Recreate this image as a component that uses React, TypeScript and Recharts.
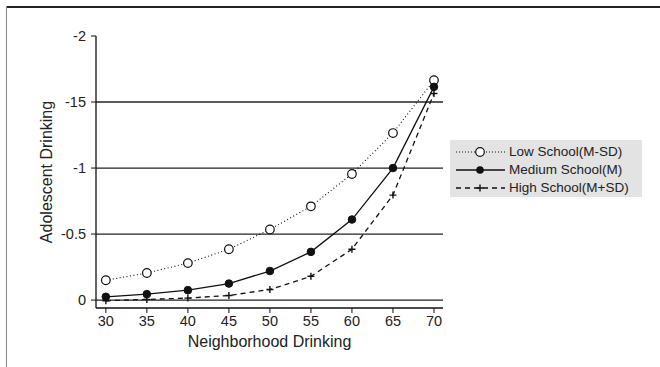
import React from "react";
import {
  LineChart,
  Line,
  XAxis,
  YAxis,
  ReferenceLine,
} from "recharts";

// Neighborhood drinking levels (x)
const neighborhood = [30, 35, 40, 45, 50, 55, 60, 65, 70];

// Predicted adolescent drinking for three school-level groups
const lowSchool = [-0.15, -0.205, -0.28, -0.385, -0.535, -0.71, -0.955, -1.265, -1.665];
const mediumSchool = [-0.025, -0.045, -0.075, -0.125, -0.22, -0.365, -0.61, -1.0, -1.615];
const highSchool = [0.005, -0.005, -0.015, -0.035, -0.08, -0.18, -0.385, -0.795, -1.565];

// Axis ticks and their printed labels
const yTicks = [-2, -1.5, -1, -0.5, 0];
const yTickLabels = ["-2", "-15", "-1", "-0.5", "0"];
const gridValues = [-1.5, -1, -0.5, 0];
const xTicks = [30, 35, 40, 45, 50, 55, 60, 65, 70];

const seriesNames = ["Low School(M-SD)", "Medium School(M)", "High School(M+SD)"];

const data = neighborhood.map((n, i) => ({
  x: n,
  low: lowSchool[i],
  medium: mediumSchool[i],
  high: highSchool[i],
}));

const INK = "#111";
const FONT = "'Liberation Sans', Arial, Helvetica, sans-serif";

const PlusDot = (props: any) => {
  const { cx, cy, index } = props;
  if (cx == null || cy == null) return null;
  const s = 3.5;
  return (
    <path
      key={`plus-${index}`}
      d={`M${cx - s},${cy}H${cx + s}M${cx},${cy - s}V${cy + s}`}
      stroke={INK}
      strokeWidth={1.4}
      fill="none"
    />
  );
};

const LegendBox = () => {
  const rows = [
    { dash: "1 2", marker: "open" },
    { dash: undefined, marker: "filled" },
    { dash: "5 4", marker: "plus" },
  ];
  return (
    <div
      style={{
        position: "absolute",
        left: 450,
        top: 140,
        background: "#e3e3e3",
        width: 192,
        height: 57,
        boxSizing: "border-box",
        paddingTop: 3,
        fontFamily: FONT,
        fontSize: 13.5,
        color: "#222",
      }}
    >
      {rows.map((r, i) => (
        <div key={i} style={{ display: "flex", alignItems: "center", height: 18 }}>
          <svg width={58} height={18} style={{ display: "block" }}>
            <line
              x1={6}
              x2={55}
              y1={9}
              y2={9}
              stroke={INK}
              strokeWidth={r.dash === "1 2" ? 1 : 1.3}
              strokeDasharray={r.dash}
            />
            {r.marker === "open" && (
              <circle cx={30} cy={9} r={4.3} fill="#fff" stroke={INK} strokeWidth={1.2} />
            )}
            {r.marker === "filled" && <circle cx={30} cy={9} r={3.8} fill={INK} />}
            {r.marker === "plus" && (
              <path d="M26.5,9H33.5M30,5.5V12.5" stroke={INK} strokeWidth={1.4} />
            )}
          </svg>
          <span style={{ marginLeft: 1, lineHeight: "18px" }}>{seriesNames[i]}</span>
        </div>
      ))}
    </div>
  );
};

export default function App() {
  return (
    <div style={{ position: "absolute", left: 0, top: 0, width: 660, height: 367, background: "#fff" }}>
      {/* frame */}
      <div style={{ position: "absolute", left: 6, top: 6, width: 654, height: 2, background: "#222" }} />
      <div style={{ position: "absolute", left: 6, top: 6, width: 1, height: 361, background: "#888" }} />
      <LineChart
        width={660}
        height={367}
        data={data}
        margin={{ top: 36, right: 217, bottom: 0, left: 0 }}
        style={{ fontFamily: FONT }}
      >
        <XAxis
          dataKey="x"
          type="number"
          domain={[28.8, 71.1]}
          ticks={xTicks}
          height={59}
          tickSize={5}
          tickMargin={3}
          axisLine={{ stroke: INK, strokeWidth: 1.3 }}
          tickLine={{ stroke: INK, strokeWidth: 1 }}
          tick={{ fill: "#222", fontSize: 14.5, fontFamily: FONT }}
          label={{
            value: "Neighborhood Drinking",
            position: "insideBottom",
            offset: 20,
            fill: "#222",
            fontSize: 16,
            fontFamily: FONT,
          }}
        />
        <YAxis
          type="number"
          domain={[-2, 0.06]}
          reversed
          ticks={yTicks}
          tickFormatter={(v: number) => yTickLabels[yTicks.indexOf(v)] ?? String(v)}
          width={96}
          tickSize={5}
          tickMargin={5}
          axisLine={{ stroke: INK, strokeWidth: 1.3 }}
          tickLine={{ stroke: INK, strokeWidth: 1 }}
          tick={{ fill: "#222", fontSize: 14.5, fontFamily: FONT }}
          label={{
            value: "Adolescent Drinking",
            angle: -90,
            position: "insideLeft",
            offset: 46,
            fill: "#222",
            fontSize: 16,
            fontFamily: FONT,
            style: { textAnchor: "middle" },
          }}
        />
        {gridValues.map((g) => (
          <ReferenceLine key={g} y={g} stroke="#222" strokeWidth={1.3} ifOverflow="extendDomain" />
        ))}
        <Line
          dataKey="low"
          name={seriesNames[0]}
          stroke={INK}
          strokeWidth={1.1}
          strokeDasharray="1 2.5"
          isAnimationActive={false}
          dot={{ r: 4.3, fill: "#fff", stroke: INK, strokeWidth: 1.2, strokeDasharray: "none" }}
        />
        <Line
          dataKey="medium"
          name={seriesNames[1]}
          stroke={INK}
          strokeWidth={1.3}
          isAnimationActive={false}
          dot={{ r: 3.8, fill: INK, stroke: INK, strokeWidth: 1 }}
        />
        <Line
          dataKey="high"
          name={seriesNames[2]}
          stroke={INK}
          strokeWidth={1.3}
          strokeDasharray="5 4"
          isAnimationActive={false}
          dot={<PlusDot />}
        />
      </LineChart>
      <LegendBox />
    </div>
  );
}
